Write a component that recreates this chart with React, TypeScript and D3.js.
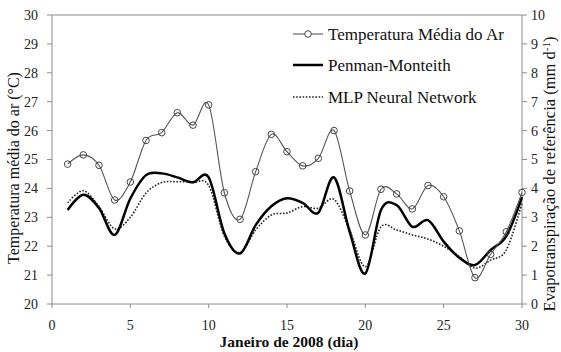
import * as d3 from 'd3';

const days = d3.range(1, 31);
const temperatura = [
  24.84, 25.16, 24.8, 23.6, 24.22, 25.66, 25.93, 26.62, 26.19, 26.89,
  23.85, 22.93, 24.58, 25.87, 25.27, 24.78, 25.04, 26.0, 23.91, 22.39,
  23.97, 23.81, 23.29, 24.1, 23.71, 22.53, 20.91, 21.72, 22.5, 23.86,
];
const penmanMonteith = [
  3.25, 3.78, 3.32, 2.39, 3.65, 4.46, 4.52, 4.38, 4.21, 4.38,
  2.45, 1.75, 2.73, 3.38, 3.66, 3.5, 3.16, 4.38, 2.5, 1.06,
  3.25, 3.42, 2.67, 2.9, 2.16, 1.6, 1.35, 1.87, 2.35, 3.7,
];
const mlp = [
  3.5, 3.92, 3.37, 2.6, 3.0, 3.84, 4.2, 4.23, 4.21, 4.1,
  2.35, 1.78, 2.56, 3.08, 3.15, 3.37, 3.31, 3.62, 2.56, 1.29,
  2.67, 2.56, 2.39, 2.25, 2.0, 1.64, 1.24, 1.52, 1.87, 3.5,
];
const xTicks = [0, 5, 10, 15, 20, 25, 30];
const tempTicks = d3.range(20, 31);
const etTicks = d3.range(0, 11);
const legendLabels = ['Temperatura Média do Ar', 'Penman-Monteith', 'MLP Neural Network'];

const W = 561;
const H = 352;
const margin = { left: 52, right: 39, top: 15, bottom: 48 };
const font = "'Liberation Serif', 'Times New Roman', serif";
const axisGray = '#8c8c8c';

export default function App() {
  const x = d3.scaleLinear().domain([0, 30]).range([margin.left, W - margin.right]);
  const yT = d3.scaleLinear().domain([20, 30]).range([H - margin.bottom, margin.top]);
  const yE = d3.scaleLinear().domain([0, 10]).range([H - margin.bottom, margin.top]);
  const x0 = margin.left;
  const x1 = W - margin.right;
  const y0 = H - margin.bottom;
  const y1 = margin.top;

  const curve = d3.curveCatmullRom.alpha(0);
  const tempLine = d3
    .line<number>()
    .x((_, i) => x(days[i]))
    .y((d) => yT(d))
    .curve(curve);
  const etLine = d3
    .line<number>()
    .x((_, i) => x(days[i]))
    .y((d) => yE(d))
    .curve(curve);

  const legendX = 293;
  const legendRows = [34, 65, 97];

  return (
    <div style={{ position: 'absolute', left: 0, top: 0 }}>
      <svg width={W} height={H} style={{ display: 'block', background: '#fff' }}>
        {/* frame */}
        <line x1={x0} x2={x1} y1={y1} y2={y1} stroke={axisGray} strokeWidth={1} />
        <line x1={x0} x2={x0} y1={y1} y2={y0} stroke={axisGray} strokeWidth={1} />
        <line x1={x1} x2={x1} y1={y1} y2={y0} stroke={axisGray} strokeWidth={1} />
        <line x1={x0} x2={x1} y1={y0} y2={y0} stroke={axisGray} strokeWidth={1} />

        {/* left axis */}
        {tempTicks.map((t) => (
          <g key={'l' + t}>
            <line x1={x0 - 5} x2={x0} y1={yT(t)} y2={yT(t)} stroke={axisGray} />
            <text
              x={x0 - 14}
              y={yT(t)}
              dy="0.35em"
              textAnchor="end"
              fontFamily={font}
              fontSize={14}
              fill="#222"
            >
              {t}
            </text>
          </g>
        ))}

        {/* right axis */}
        {etTicks.map((t) => (
          <g key={'r' + t}>
            <line x1={x1} x2={x1 + 5} y1={yE(t)} y2={yE(t)} stroke={axisGray} />
            <text
              x={x1 + 9}
              y={yE(t)}
              dy="0.35em"
              textAnchor="start"
              fontFamily={font}
              fontSize={14}
              fill="#222"
            >
              {t}
            </text>
          </g>
        ))}

        {/* bottom axis */}
        {xTicks.map((t) => (
          <g key={'b' + t}>
            <line x1={x(t)} x2={x(t)} y1={y0} y2={y0 + 4} stroke={axisGray} />
            <text
              x={x(t)}
              y={y0 + 21}
              dy="0.35em"
              textAnchor="middle"
              fontFamily={font}
              fontSize={14}
              fill="#222"
            >
              {t}
            </text>
          </g>
        ))}

        {/* axis titles */}
        <text
          transform={`translate(19,168) rotate(-90)`}
          textAnchor="middle"
          fontFamily={font}
          fontSize={16}
          fill="#111"
        >
          Temperatura média do ar (°C)
        </text>
        <text
          transform={`translate(543,174) rotate(-90)`}
          textAnchor="middle"
          fontFamily={font}
          fontSize={16.5}
          fill="#111"
          dy="0.7em"
        >
          Evapotranspiração de referência (mm d<tspan dy="-5" fontSize={11}>-1</tspan>
          <tspan dy="5">)</tspan>
        </text>
        <text
          x={289}
          y={347}
          textAnchor="middle"
          fontFamily={font}
          fontSize={15.5}
          fontWeight="bold"
          fill="#111"
        >
          Janeiro de 2008 (dia)
        </text>

        {/* series */}
        <path d={etLine(mlp) ?? ''} fill="none" stroke="#222" strokeWidth={1.6} strokeDasharray="1.6,1.6" />
        <path d={etLine(penmanMonteith) ?? ''} fill="none" stroke="#000" strokeWidth={2.5} />
        <path d={tempLine(temperatura) ?? ''} fill="none" stroke="#555" strokeWidth={1.1} />
        {temperatura.map((t, i) => (
          <circle
            key={'c' + i}
            cx={x(days[i])}
            cy={yT(t)}
            r={3.3}
            fill="none"
            stroke="#444"
            strokeWidth={1}
          />
        ))}

        {/* legend */}
        <line x1={legendX} x2={legendX + 30} y1={legendRows[0]} y2={legendRows[0]} stroke="#555" strokeWidth={1.1} />
        <circle cx={legendX + 15} cy={legendRows[0]} r={3.3} fill="#fff" stroke="#444" />
        <line x1={legendX} x2={legendX + 30} y1={legendRows[1]} y2={legendRows[1]} stroke="#000" strokeWidth={2.5} />
        <line
          x1={legendX}
          x2={legendX + 30}
          y1={legendRows[2]}
          y2={legendRows[2]}
          stroke="#222"
          strokeWidth={1.6}
          strokeDasharray="1.6,1.6"
        />
        {legendLabels.map((l, i) => (
          <text
            key={l}
            x={legendX + 35}
            y={legendRows[i]}
            dy="0.35em"
            fontFamily={font}
            fontSize={17}
            fill="#111"
          >
            {l}
          </text>
        ))}
      </svg>
    </div>
  );
}
